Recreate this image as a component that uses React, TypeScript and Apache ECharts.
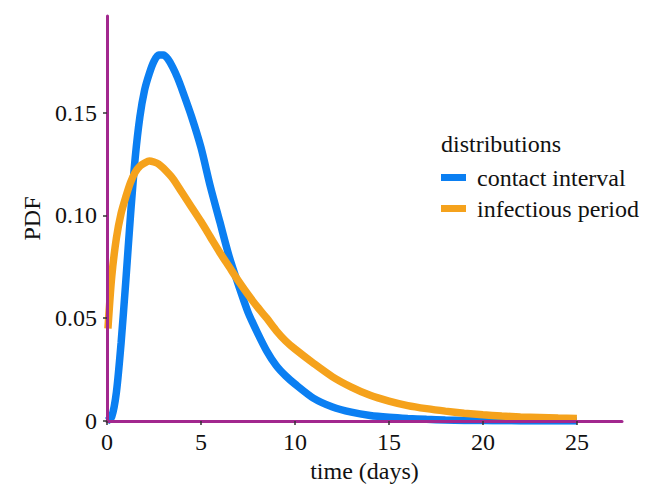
import React, { useEffect, useRef } from "react";
import * as echarts from "echarts";

// time axis (days) and PDF values for each distribution
const contactDays = [0, 0.25, 0.5, 0.75, 1, 1.25, 1.5, 1.75, 2, 2.25, 2.5, 2.75, 3, 3.25, 3.5, 3.75, 4, 4.5, 5, 5.5, 6, 6.5, 7, 7.5, 8, 8.5, 9, 9.5, 10, 11, 12, 13, 14, 15, 16, 17, 18, 19, 20, 21, 22, 23, 24, 25];
const contactPdf = [0, 0.002, 0.014, 0.038, 0.068, 0.1, 0.128, 0.148, 0.161, 0.169, 0.175, 0.178, 0.178, 0.176, 0.172, 0.167, 0.161, 0.148, 0.133, 0.114, 0.097, 0.08, 0.066, 0.053, 0.043, 0.034, 0.027, 0.022, 0.018, 0.011, 0.0068, 0.0043, 0.0027, 0.0018, 0.0012, 0.0008, 0.0005, 0.0003, 0.0002, 0.0001, 0.00005, 0.00003, 0.00002, 0.00001];

const infectiousDays = [0.05, 0.25, 0.5, 0.75, 1, 1.25, 1.5, 1.75, 2, 2.25, 2.5, 2.75, 3, 3.5, 4, 4.5, 5, 5.5, 6, 6.5, 7, 7.5, 8, 8.5, 9, 9.5, 10, 11, 12, 13, 14, 15, 16, 17, 18, 19, 20, 21, 22, 23, 24, 25];
const infectiousPdf = [0.045, 0.07, 0.089, 0.101, 0.109, 0.116, 0.121, 0.124, 0.1255, 0.1265, 0.126, 0.125, 0.123, 0.118, 0.111, 0.104, 0.097, 0.0895, 0.082, 0.075, 0.068, 0.0615, 0.0555, 0.05, 0.044, 0.039, 0.035, 0.028, 0.0215, 0.0165, 0.0125, 0.0097, 0.0075, 0.006, 0.0048, 0.0038, 0.003, 0.0024, 0.002, 0.0017, 0.0014, 0.0012];

const xTicks = [0, 5, 10, 15, 20, 25];
const yTicks = [0, 0.05, 0.1, 0.15];
const yTickLabels = ["0", "0.05", "0.10", "0.15"];

const seriesNames = ["contact interval", "infectious period"];
const seriesColors = ["#0b7ff2", "#f5a21c"];

const FONT = "'Liberation Serif', 'DejaVu Serif', serif";
const AXIS_COLOR = "#a2288e";
const FONT_SIZE = 24;

export default function App() {
  const ref = useRef<HTMLDivElement>(null);

  useEffect(() => {
    if (!ref.current) return;
    const chart = echarts.init(ref.current, undefined, { renderer: "svg" });
    const pair = (xs: number[], ys: number[]) => xs.map((x, i) => [x, ys[i]]);

    chart.setOption({
      animation: false,
      backgroundColor: "#ffffff",
      textStyle: { fontFamily: FONT },
      grid: { left: 107, right: 34, top: 16, bottom: 63, containLabel: false, outerBoundsMode: "none" },
      title: {
        text: "distributions",
        left: 436,
        top: 127,
        textStyle: { fontFamily: FONT, fontSize: FONT_SIZE, fontWeight: "normal", color: "#111" },
      },
      legend: {
        orient: "vertical",
        left: 436,
        top: 160,
        icon: "rect",
        itemWidth: 25,
        itemHeight: 7,
        itemGap: 6,
        data: seriesNames,
        textStyle: { fontFamily: FONT, fontSize: FONT_SIZE, color: "#111", lineHeight: 25, padding: [0, 0, 0, 6] },
      },
      xAxis: {
        type: "value",
        min: 0,
        max: 27.4,
        interval: 5,
        z: 5,
        name: "time (days)",
        nameLocation: "middle",
        nameGap: 30,
        nameTextStyle: { fontFamily: FONT, fontSize: FONT_SIZE, color: "#111" },
        axisLine: { show: true, lineStyle: { color: AXIS_COLOR, width: 3 } },
        axisTick: { show: true, length: 4, customValues: xTicks, lineStyle: { color: "#333", width: 1.5 } },
        axisLabel: { customValues: xTicks, fontFamily: FONT, fontSize: FONT_SIZE, color: "#111", margin: 9 },
        splitLine: { show: false },
      },
      yAxis: {
        type: "value",
        min: 0,
        max: 0.197,
        interval: 0.05,
        z: 5,
        name: "PDF",
        nameLocation: "middle",
        nameGap: 63,
        nameTextStyle: { fontFamily: FONT, fontSize: FONT_SIZE, color: "#111" },
        axisLine: { show: true, lineStyle: { color: AXIS_COLOR, width: 3 } },
        axisTick: { show: true, length: 4, customValues: yTicks, lineStyle: { color: "#333", width: 1.5 } },
        axisLabel: {
          customValues: yTicks,
          fontFamily: FONT,
          fontSize: FONT_SIZE,
          color: "#111",
          margin: 10,
          formatter: (v: number) => {
            const i = yTicks.findIndex((t) => Math.abs(t - v) < 1e-9);
            return i >= 0 ? yTickLabels[i] : "";
          },
        },
        splitLine: { show: false },
      },
      series: [
        {
          name: seriesNames[0],
          type: "line",
          data: pair(contactDays, contactPdf),
          showSymbol: false,
          smooth: 0.25,
          color: seriesColors[0],
          lineStyle: { width: 7.5, color: seriesColors[0] },
          z: 2,
        },
        {
          name: seriesNames[1],
          type: "line",
          data: pair(infectiousDays, infectiousPdf),
          showSymbol: false,
          smooth: 0.25,
          color: seriesColors[1],
          lineStyle: { width: 7.5, color: seriesColors[1] },
          z: 3,
        },
      ],
    });

    return () => chart.dispose();
  }, []);

  return (
    <div
      ref={ref}
      style={{ position: "fixed", left: 0, top: 0, width: 656, height: 484 }}
    />
  );
}
